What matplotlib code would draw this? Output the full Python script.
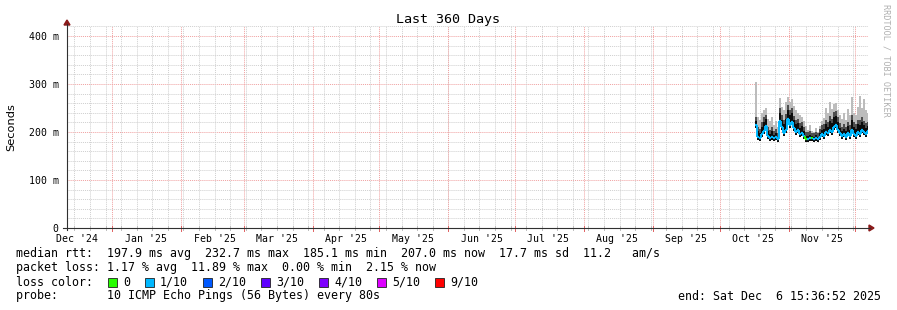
import matplotlib
matplotlib.use("Agg")
import matplotlib.pyplot as plt
import matplotlib.dates as mdates
from matplotlib.lines import Line2D
from matplotlib.patches import Polygon, Rectangle
from datetime import datetime, timedelta

W, H = 897, 310

# --- data (ms), one value per ~0.9 day slot ---
data_start = datetime(2025, 10, 16, 18, 0)
slot = timedelta(hours=21.6)
median_ms = [215, 190, 188, 195, 202, 213, 192, 188, 190, 187, 189, 186, 222, 210,
             198, 205, 228, 215, 220, 208, 200, 205, 195, 198, 192, 186, 186, 188,
             187, 185, 188, 186, 190, 195, 192, 200, 197, 205, 200, 210, 215, 205,
             198, 192, 195, 190, 198, 192, 205, 195, 192, 200, 195, 205, 200, 196, 202]
smoke_dark_ms = [225, 205, 200, 215, 225, 230, 205, 198, 205, 196, 200, 192, 245, 230,
                 220, 232, 250, 240, 245, 228, 220, 222, 212, 215, 205, 195, 194, 196,
                 193, 192, 195, 192, 200, 208, 210, 220, 215, 228, 222, 235, 238, 225,
                 212, 205, 210, 205, 215, 208, 230, 215, 210, 220, 220, 225, 218, 212, 215]
smoke_max_ms = [305, 232, 225, 240, 245, 250, 228, 222, 232, 215, 222, 210, 270, 252,
                245, 262, 272, 262, 268, 255, 245, 240, 235, 232, 222, 212, 205, 214,
                203, 200, 208, 200, 212, 222, 230, 250, 240, 262, 248, 258, 260, 245,
                236, 228, 240, 226, 248, 235, 272, 240, 235, 252, 275, 250, 268, 245, 240]
loss_idx = [1] * 57
loss_idx[25] = 0
loss_idx[28] = 0

loss_labels = ["0", "1/10", "2/10", "3/10", "4/10", "5/10", "9/10"]
loss_colors = ["#26ff00", "#00b8ff", "#0059ff", "#5e00ff", "#7e00ff", "#dd00ff", "#ff0000"]

end_time = datetime(2025, 12, 6, 15, 36, 52)
start_time = end_time - timedelta(days=360)


def fx(x):
    return x / W


def fy(y):
    return 1 - y / H


fig = plt.figure(figsize=(W / 100, H / 100), dpi=100)
fig.patch.set_facecolor("white")
ax = fig.add_axes([fx(67), fy(228), (868 - 67) / W, (228 - 26) / H])
ax.set_xlim(mdates.date2num(start_time), mdates.date2num(end_time))
ax.set_ylim(0, 421)
for s in ax.spines.values():
    s.set_visible(False)

# grid
minor_col = "#cfcfcf"
major_col = "#f0a0a0"
dot = (0, (1, 1))
for v in range(20, 421, 20):
    if v % 100:
        ax.axhline(v, color=minor_col, lw=0.7, ls=dot, zorder=0)
for v in range(100, 421, 100):
    ax.axhline(v, color=major_col, lw=0.7, ls=dot, zorder=0)
weeks = mdates.WeekdayLocator(byweekday=mdates.SU).tick_values(start_time, end_time)
for d in weeks:
    ax.axvline(d, color=minor_col, lw=0.7, ls=dot, zorder=0)
months = mdates.MonthLocator().tick_values(start_time, end_time)
for d in months:
    ax.axvline(d, color=major_col, lw=0.7, ls=dot, zorder=0)

# smoke
xs = [mdates.date2num(data_start + i * slot) for i in range(len(median_ms))]
wd = slot.total_seconds() / 86400
lows = [m - 6 for m in median_ms]
ax.bar(xs, [t - l for t, l in zip(smoke_max_ms, lows)], bottom=lows, width=wd,
       align="edge", color="#bcbcbc", lw=0, zorder=2)
ax.bar(xs, [t - l + 6 for t, l in zip(smoke_dark_ms, lows)], bottom=lows, width=wd,
       align="edge", color="#4e4e4e", lw=0, zorder=3)
ax.bar(xs, [(t - l) * 0.85 for t, l in zip(smoke_dark_ms, lows)], bottom=lows, width=wd,
       align="edge", color="#0c0c0c", lw=0, zorder=3)

# median line coloured by loss
for i, m in enumerate(median_ms):
    c = loss_colors[loss_idx[i]]
    if i > 0:
        ax.plot([xs[i], xs[i]], [median_ms[i - 1], m], color=c, lw=1.4, zorder=4,
                solid_capstyle="butt")
    ax.plot([xs[i], xs[i] + wd], [m, m], color=c, lw=1.6, zorder=4, solid_capstyle="butt")

# ticks
ax.set_yticks([0, 100, 200, 300, 400])
ax.set_yticklabels(["0", "100 m", "200 m", "300 m", "400 m"])
mid = [mdates.date2num(d) for d in [datetime(2024, 12, 16)] +
       [datetime(2025, k, 16) for k in range(1, 12)]]
ax.set_xticks(mid)
ax.set_xticklabels([mdates.num2date(m).strftime("%b '%y") for m in mid])
ax.tick_params(axis="both", length=0, labelsize=7.1, colors="black", pad=4)
for lab in ax.get_xticklabels() + ax.get_yticklabels():
    lab.set_family("DejaVu Sans Mono")
ax.tick_params(axis="y", pad=6)

# axes lines, little ticks and arrows
for d in weeks:
    xp = ax.transData.transform((d, 0))[0]
    fig.add_artist(Line2D([xp / W, xp / W], [fy(226), fy(230)], color="#bdbdbd", lw=0.7))
for d in months:
    xp = ax.transData.transform((d, 0))[0]
    fig.add_artist(Line2D([xp / W, xp / W], [fy(226), fy(231)], color="#e06060", lw=0.7))
fig.add_artist(Line2D([fx(67), fx(67)], [fy(230), fy(24)], color="#303030", lw=0.8))
fig.add_artist(Line2D([fx(63), fx(870)], [fy(228), fy(228)], color="#303030", lw=0.8))
arrow = "#8b1a1a"
fig.add_artist(Polygon([(fx(64), fy(25)), (fx(70), fy(25)), (fx(67), fy(20))],
                       closed=True, color=arrow, transform=fig.transFigure))
fig.add_artist(Polygon([(fx(869), fy(225)), (fx(869), fy(231)), (fx(874), fy(228))],
                       closed=True, color=arrow, transform=fig.transFigure))

# titles
mono = "DejaVu Sans Mono"
fig.text(fx(448), fy(19), "Last 360 Days", ha="center", va="center", family=mono, fontsize=9.6)
fig.text(fx(11), fy(127), "Seconds", ha="center", va="center", rotation=90, fontsize=8.2)
fig.text(fx(886), fy(4), "RRDTOOL / TOBI OETIKER", ha="center", va="top", rotation=-90,
         family=mono, fontsize=6.1, color="#b0b0b0")

# legend
fs = 8.4
lines = [
    (254, "median rtt:  197.9 ms avg  232.7 ms max  185.1 ms min  207.0 ms now  17.7 ms sd  11.2   am/s"),
    (268, "packet loss: 1.17 % avg  11.89 % max  0.00 % min  2.15 % now"),
    (282, "loss color:"),
    (296, "probe:       10 ICMP Echo Pings (56 Bytes) every 80s"),
]
for y, t in lines:
    fig.text(fx(16), fy(y), t, ha="left", va="center", family=mono, fontsize=fs)
fig.text(fx(881), fy(296), "end: Sat Dec  6 15:36:52 2025", ha="right", va="center",
         family=mono, fontsize=fs)
box_x = [108, 145, 203, 261, 319, 377, 435]
for bx, lab, col in zip(box_x, loss_labels, loss_colors):
    fig.add_artist(Rectangle((fx(bx), fy(286.5)), 9 / W, 9 / H, facecolor=col,
                             edgecolor="#202020", lw=0.6, transform=fig.transFigure))
    fig.text(fx(bx + 15), fy(282), lab, ha="left", va="center", family=mono, fontsize=fs)

fig.savefig("out.png", dpi=100)
